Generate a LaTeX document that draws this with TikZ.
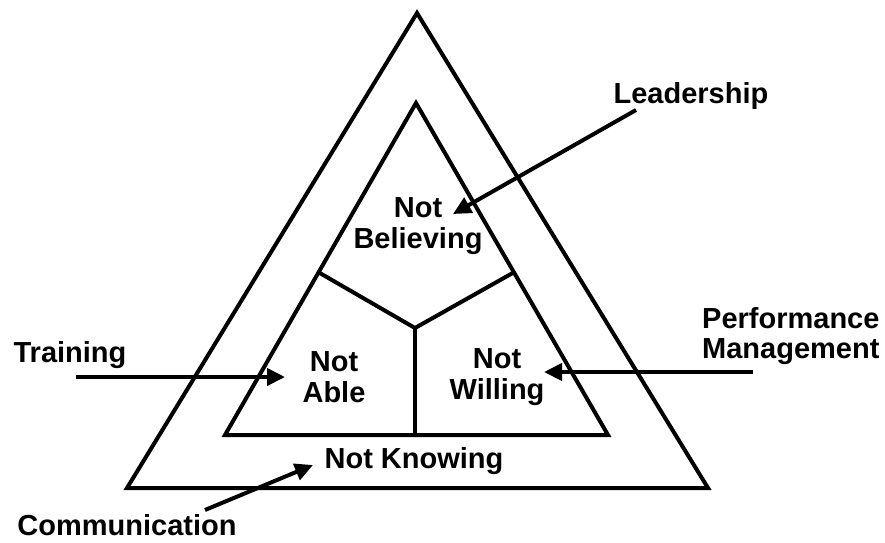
\documentclass[tikz,border=0pt]{standalone}
\usepackage{fontspec}
\setmainfont{Liberation Sans}
\usetikzlibrary{arrows.meta,calc}
\begin{document}
\begin{tikzpicture}[x=1pt,y=-1pt,
  frame/.style={line width=4pt,line join=miter},
  label/.style={font=\bfseries\fontsize{29}{30.5}\selectfont,inner sep=0pt},
  pointer/.style={line width=4pt,-{Triangle[length=18pt,width=17pt]}}]
\useasboundingbox (0,0) rectangle (885,542);

% outer triangle
\coordinate (oa) at (417,13);
\coordinate (obl) at (127,488);
\coordinate (obr) at (708,488);
\draw[frame] (oa) -- (obl) -- (obr) -- cycle;

% inner triangle
\coordinate (ia) at (416,103);
\coordinate (ibl) at (225,435);
\coordinate (ibr) at (608,435);
\draw[frame] (ia) -- (ibl) -- (ibr) -- cycle;

% three sectors inside the inner triangle
\coordinate (hub) at (415,328);
\coordinate (jl) at ($(ia)!0.51!(ibl)$);
\coordinate (jr) at ($(ia)!0.51!(ibr)$);
\coordinate (jb) at (415,435);
\draw[frame] (jl) -- (hub) -- (jr);
\draw[frame] (hub) -- (jb);

% sector labels
\node[label,align=center] (believe) at (418,226) {Not\\Believing};
\node[label,align=center] (able) at (334,377) {Not\\Able};
\node[label,align=center] (willing) at (497,377) {Not\\Willing};
\node[label,anchor=base] (knowing) at (414,468) {Not Knowing};

% outside labels
\node[label,anchor=base] (lead) at (691,103) {Leadership};
\node[label,anchor=base] (train) at (70,362) {Training};
\node[label,anchor=west,align=left] (perf) at (702,336) {Performance\\Management};
\node[label,anchor=base] (comm) at (127,535) {Communication};

% arrows
\coordinate (leadS) at (636,110);
\coordinate (leadT) at (453,214);
\coordinate (trainS) at (76,377);
\coordinate (trainT) at (285,377);
\coordinate (perfS) at (753,372);
\coordinate (perfT) at (544,372);
\coordinate (commS) at (205,510);
\coordinate (commT) at (313,465);
\draw[pointer] (leadS) -- (leadT);
\draw[pointer] (trainS) -- (trainT);
\draw[pointer] (perfS) -- (perfT);
\draw[pointer] (commS) -- (commT);
\end{tikzpicture}
\end{document}
